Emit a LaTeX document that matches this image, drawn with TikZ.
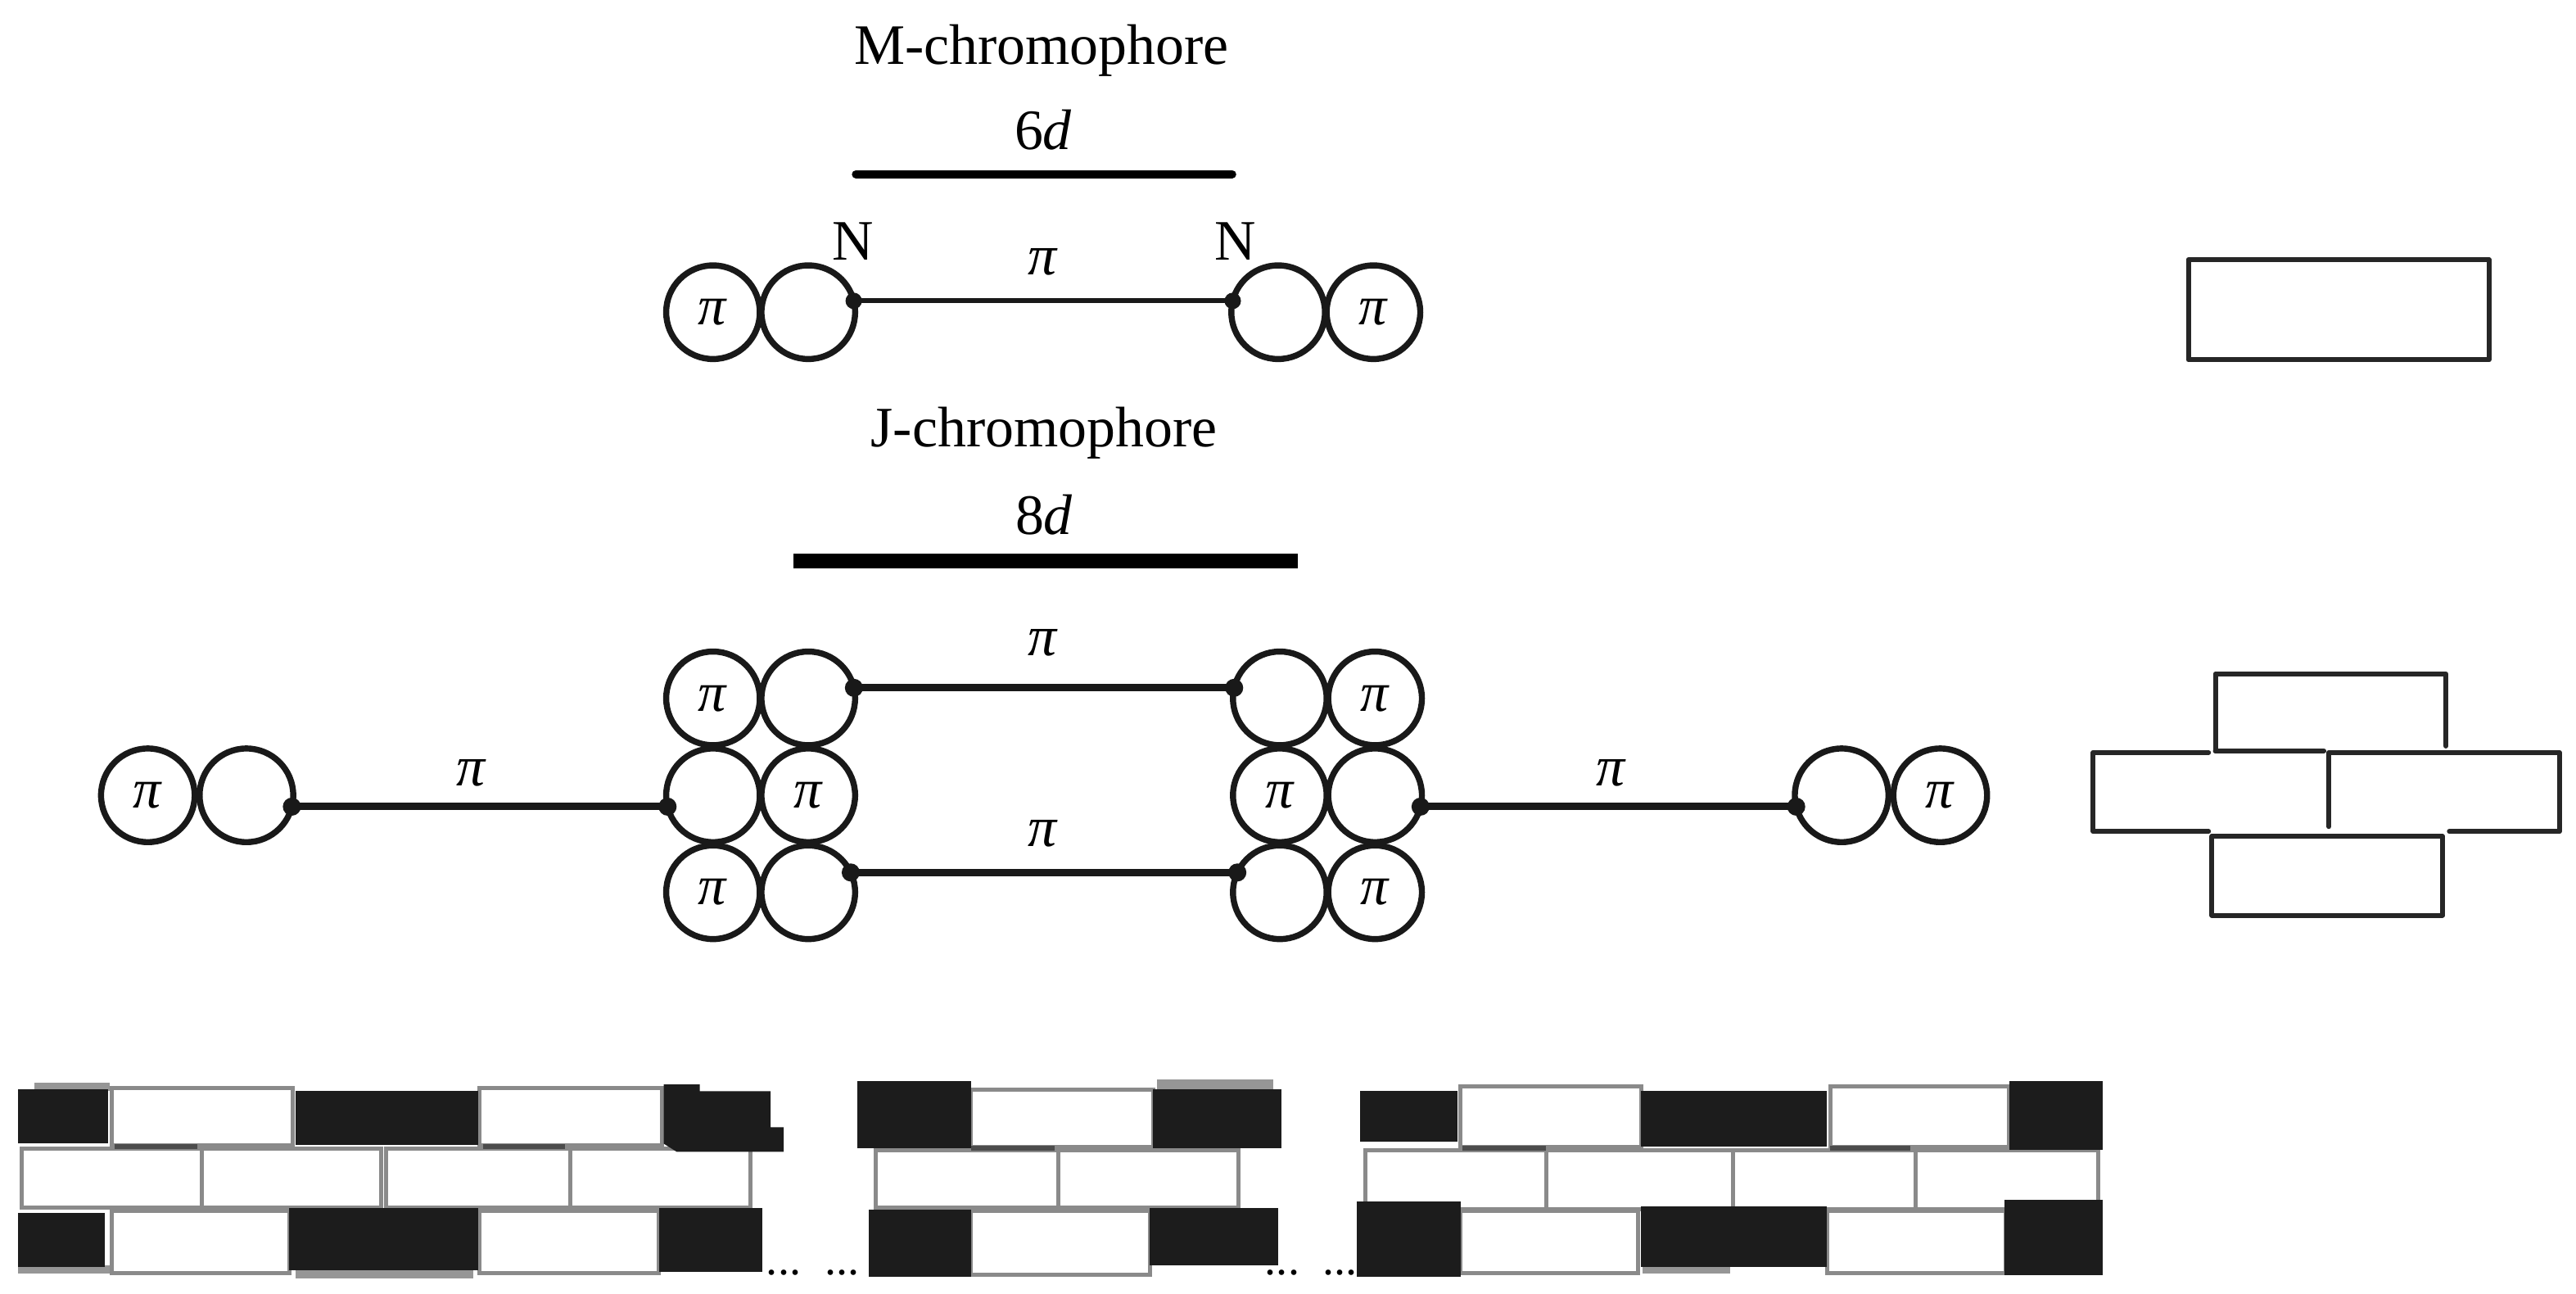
\documentclass[tikz,border=0pt]{standalone}
\usepackage{fontspec}
\setmainfont{Liberation Serif}
\usetikzlibrary{calc}
\definecolor{wallblack}{HTML}{1C1C1C}
\definecolor{brickgray}{HTML}{8A8A8A}
\newcommand\pisym{\textit{π}}
\tikzset{
  ring/.style={circle, draw=black!90, line width=3.7pt, minimum size=57pt, inner sep=0pt, outer sep=0pt, font=\fontsize{34}{40}\selectfont},
  lbl/.style={font=\fontsize{34.8}{40}\selectfont, inner sep=0pt, anchor=base},
  dotsl/.style={font=\fontsize{28}{30}\selectfont, inner sep=0pt, anchor=base},
  bond/.style={line width=3pt, draw=black!90},
  jbond/.style={line width=4.5pt, draw=black!90},
  enddot/.style={fill=black!90},
  blk/.style={fill=wallblack, draw=none},
  wbrick/.style={draw=brickgray, line width=2.5pt, fill=white},
  dstrip/.style={draw=black!70, line width=3pt},
  gstrip/.style={fill=brickgray!90, draw=none},
  outl/.style={draw=black!85, line width=3pt, line join=round, line cap=round},
}
\begin{document}
\begin{tikzpicture}[x=1pt, y=-1pt]
\useasboundingbox (0,0) rectangle (1568,787);

% ---------- M-chromophore ----------
\node[lbl] (mtitle) at (634,39) {M-chromophore};
\node[lbl] (m6d) at (635,91) {6\textit{d}};
\draw[line width=5pt, line cap=round] (521,106) -- (750,106);
\node[lbl] (n1) at (519,158) {N};
\node[lbl] (n2) at (752,158) {N};
\node[lbl] (mpi) at (635,167) {\pisym};
\node[ring] (m1) at (434,190) {\pisym};
\node[ring] (m2) at (492,190) {};
\node[ring] (m3) at (778,190) {};
\node[ring] (m4) at (836,190) {\pisym};
\draw[bond] (m2.14) -- (m3.166);
\fill[enddot] (m2.14) circle (5);
\fill[enddot] (m3.166) circle (5);

% ---------- J-chromophore ----------
\node[lbl] (jtitle) at (635.5,272) {J-chromophore};
\node[lbl] (j8d) at (635.5,325) {8\textit{d}};
\draw[line width=9pt] (483,341.5) -- (790,341.5);

\node[ring] (a11) at (434,425) {\pisym};
\node[ring] (a12) at (492,425) {};
\node[ring] (a21) at (434,484) {};
\node[ring] (a22) at (492,484) {\pisym};
\node[ring] (a31) at (434,543) {\pisym};
\node[ring] (a32) at (492,543) {};

\node[ring] (b11) at (779,425) {};
\node[ring] (b12) at (837,425) {\pisym};
\node[ring] (b21) at (779,484) {\pisym};
\node[ring] (b22) at (837,484) {};
\node[ring] (b31) at (779,543) {};
\node[ring] (b32) at (837,543) {\pisym};

\node[lbl] (jpitop) at (635,399) {\pisym};
\node[lbl] (jpibot) at (635,515) {\pisym};
\draw[jbond] (a12.13) -- (b11.167);
\fill[enddot] (a12.13) circle (5.5);
\fill[enddot] (b11.167) circle (5.5);
\draw[jbond] (a32.25) -- (b31.155);
\fill[enddot] (a32.25) circle (5.5);
\fill[enddot] (b31.155) circle (5.5);

\node[ring] (l1) at (90,484) {\pisym};
\node[ring] (l2) at (150,484) {};
\node[lbl] (lpi) at (287,478) {\pisym};
\draw[jbond] (l2.-14) -- (a21.194);
\fill[enddot] (l2.-14) circle (5.5);
\fill[enddot] (a21.194) circle (5.5);

\node[ring] (r1) at (1121,484) {};
\node[ring] (r2) at (1181,484) {\pisym};
\node[lbl] (rpi) at (981,478) {\pisym};
\draw[jbond] (b22.-14) -- (r1.194);
\fill[enddot] (b22.-14) circle (5.5);
\fill[enddot] (r1.194) circle (5.5);

% ---------- right-hand bricks ----------
\draw[outl] (1332,158) rectangle (1515,219);
\draw[outl] (1348.5,457) -- (1348.5,410) -- (1488.8,410) -- (1488.8,454);
\draw[outl] (1348.5,457) -- (1414.5,457);
\draw[outl] (1344.3,458) -- (1274.1,458) -- (1274.1,506) -- (1344.3,506);
\draw[outl] (1417.6,503) -- (1417.6,458) -- (1558,458) -- (1558,506) -- (1490.9,506);
\draw[outl] (1346.4,509) rectangle (1486.7,557);

% ---------- wall, segment 1 ----------
\draw[wbrick] (68,662) rectangle (178,697);
\draw[wbrick] (292,662) rectangle (403,697);
\draw[wbrick] (13,699) rectangle (123,735);
\draw[wbrick] (123,699) rectangle (232,735);
\draw[wbrick] (235,699) rectangle (347,735);
\draw[wbrick] (347,699) rectangle (457,735);
\draw[wbrick] (68,737) rectangle (176,775);
\draw[wbrick] (292,737) rectangle (401,775);
\draw[dstrip] (70,698) -- (120,698);
\draw[dstrip] (294,698) -- (344,698);
\fill[gstrip] (21,659) rectangle (67,664);
\fill[gstrip] (11,770) rectangle (67,775);
\fill[gstrip] (180,773) rectangle (288,778);
\fill[blk] (11,663) rectangle (66,696);
\fill[blk] (180,664) rectangle (291,697);
\fill[blk] (404,660) -- (426,660) -- (426,664) -- (469,664) -- (469,686) -- (477,686) -- (477,701) -- (412,701) -- (404,696) -- cycle;
\fill[blk] (11,738) rectangle (64,771);
\fill[blk] (176,735) rectangle (291,773);
\fill[blk] (401,735) rectangle (464,774);
\node[dotsl] (dots1) at (477,776) {...};

% ---------- wall, segment 2 ----------
\node[dotsl] (dots2) at (512.5,776) {...};
\draw[wbrick] (591,663) rectangle (702,698);
\draw[wbrick] (533,700) rectangle (644,735);
\draw[wbrick] (644,700) rectangle (754,735);
\draw[wbrick] (591,737) rectangle (700,776);
\draw[dstrip] (591,699) -- (642,699);
\fill[gstrip] (704,657) rectangle (775,664);
\fill[blk] (522,658) rectangle (591,699);
\fill[blk] (702,663) rectangle (780,699);
\fill[blk] (529,736) rectangle (591,777);
\fill[blk] (700,735) rectangle (778,770);
\node[dotsl] (dots3) at (780.5,776) {...};
\node[dotsl] (dots4) at (815.5,776) {...};

% ---------- wall, segment 3 ----------
\draw[wbrick] (889,661) rectangle (999,698);
\draw[wbrick] (1114,661) rectangle (1223,698);
\draw[wbrick] (831,700) rectangle (941,736);
\draw[wbrick] (941,700) rectangle (1055,736);
\draw[wbrick] (1055,700) rectangle (1166,736);
\draw[wbrick] (1166,700) rectangle (1277,736);
\draw[wbrick] (889,737) rectangle (997,775);
\draw[wbrick] (1112,737) rectangle (1221,775);
\draw[dstrip] (890,699) -- (941,699);
\draw[dstrip] (1114,699) -- (1163,699);
\fill[gstrip] (1000,769) rectangle (1053,775);
\fill[blk] (828,664) rectangle (887,695);
\fill[blk] (999,664) rectangle (1112,698);
\fill[blk] (1223,658) rectangle (1280,700);
\fill[blk] (826,731) rectangle (889,777);
\fill[blk] (999,734) rectangle (1112,771);
\fill[blk] (1220,730) rectangle (1280,776);
\end{tikzpicture}
\end{document}
